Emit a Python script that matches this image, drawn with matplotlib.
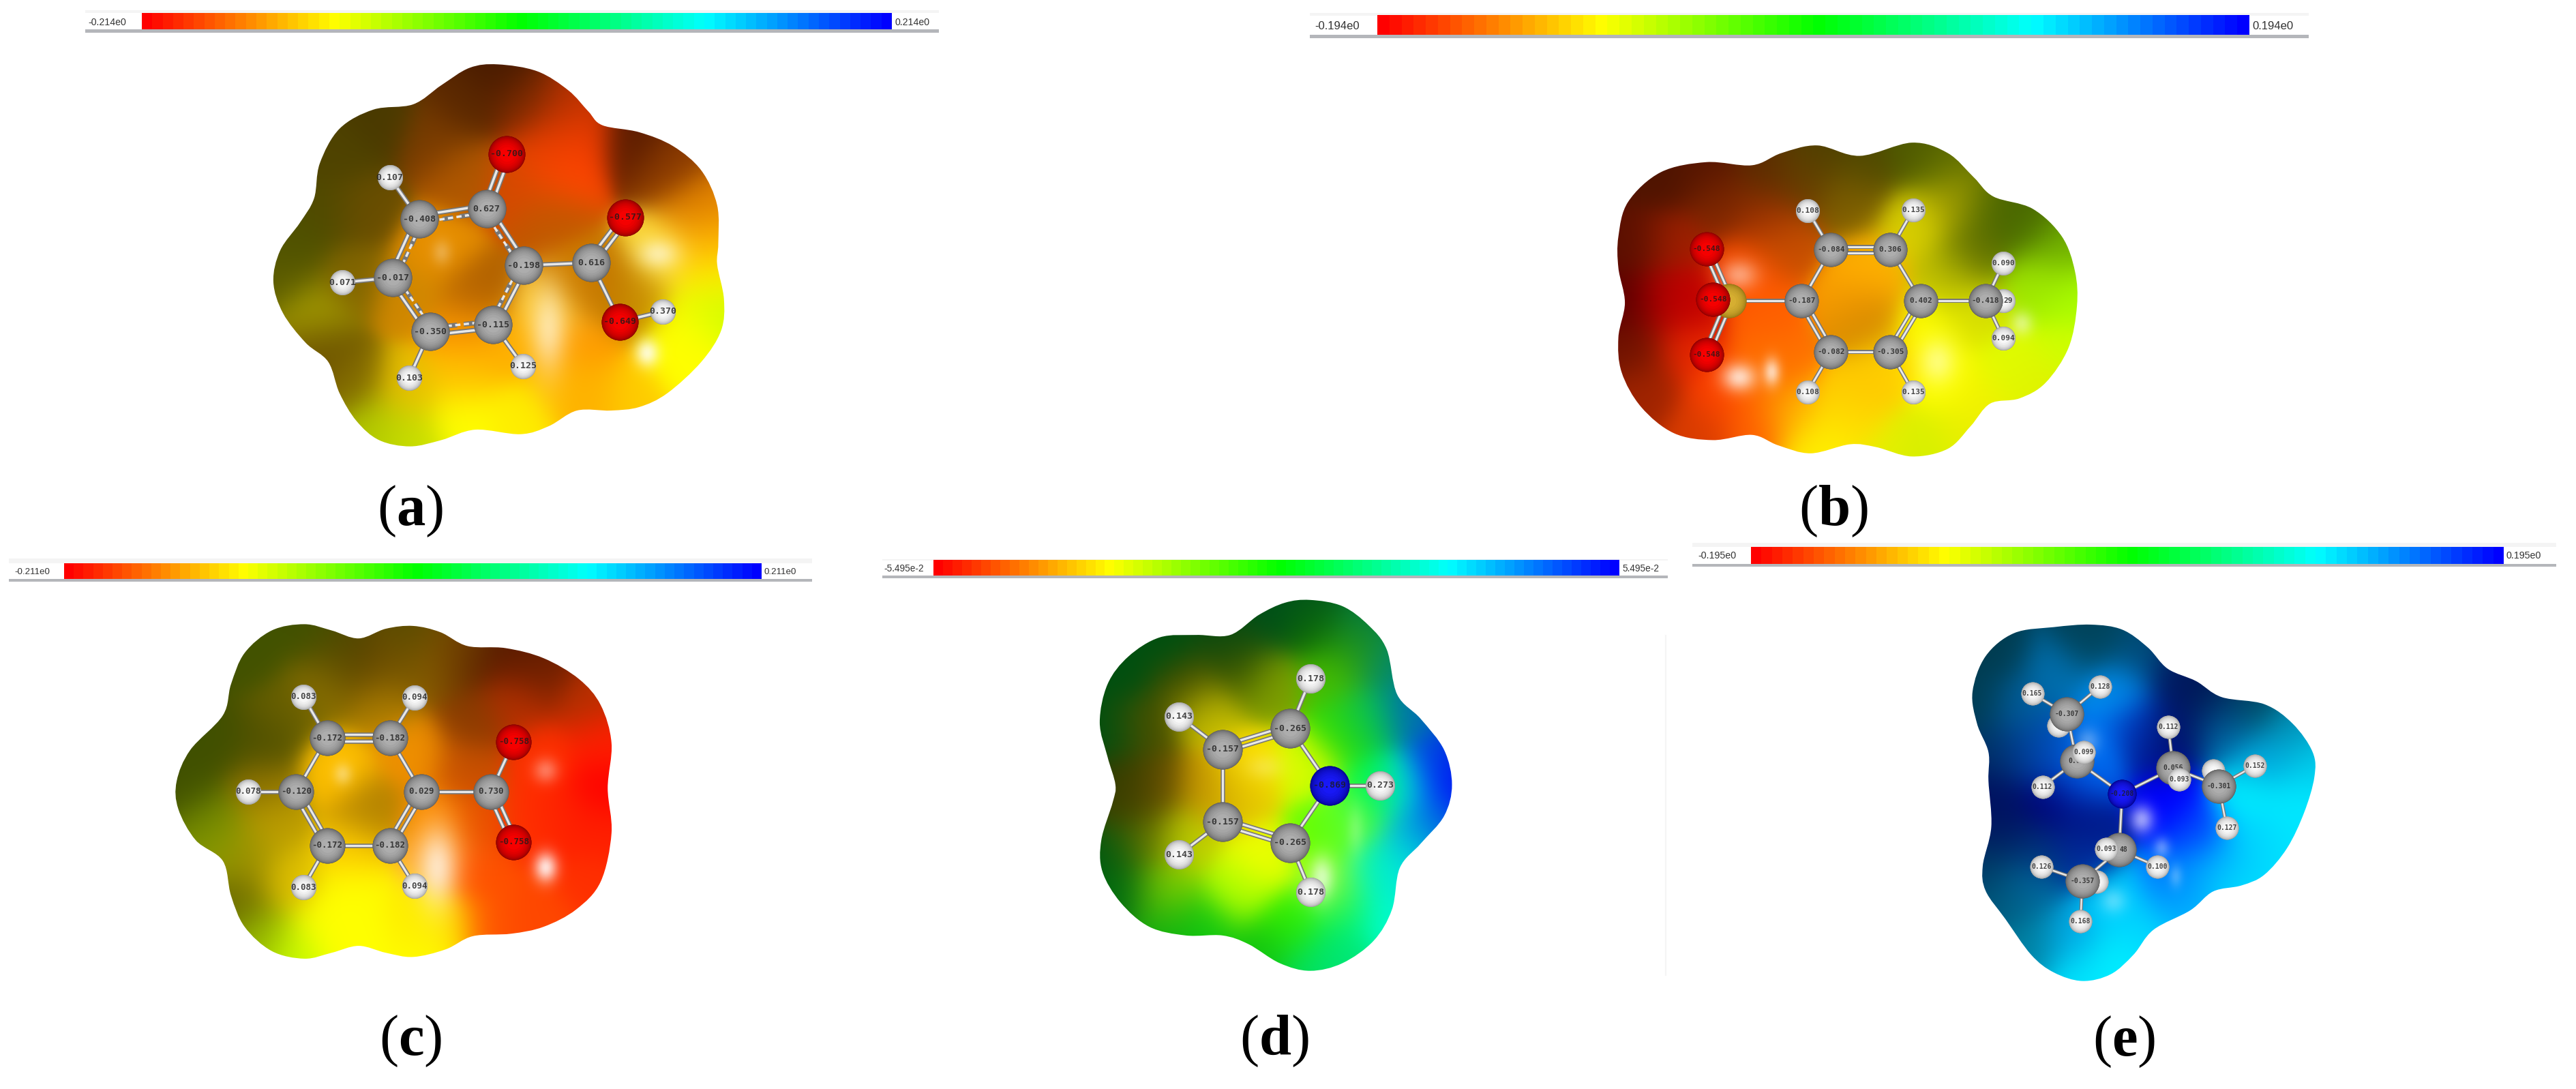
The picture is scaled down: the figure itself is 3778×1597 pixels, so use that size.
import numpy as np
import matplotlib
matplotlib.use('Agg')
import matplotlib.pyplot as plt
from matplotlib.colors import LinearSegmentedColormap, to_rgb
from matplotlib.path import Path
from matplotlib.patches import PathPatch, Rectangle

plt.rcParams['mathtext.fontset'] = 'custom'
plt.rcParams['mathtext.rm'] = 'Liberation Serif'
plt.rcParams['mathtext.bf'] = 'Liberation Serif:bold'

W, H = 3778, 1597
READ = 1568.0

# ---- panel a: 2-carboxyphenolate
a_elem = ['O', 'C', 'C', 'H', 'C', 'H', 'C', 'H', 'C', 'H', 'C', 'C', 'O', 'O', 'H']
a_x = [776, 740, 621, 569, 574, 485, 640, 603, 752, 805, 806, 925, 986, 976, 1052]
a_y = [442, 600, 630, 510, 798, 812, 953, 1086, 933, 1052, 763, 755, 625, 925, 895]
a_lab = ['-0.700', '0.627', '-0.408', '0.107', '-0.017', '0.071', '-0.350', '0.103',
         '-0.115', '0.125', '-0.198', '0.616', '-0.577', '-0.649', '0.370']
a_bonds = [(0, 1, 2), (1, 2, 1.5), (2, 3, 1), (2, 4, 1.5), (4, 5, 1), (4, 6, 1.5), (6, 7, 1),
           (6, 8, 1.5), (8, 9, 1), (8, 10, 1.5), (10, 1, 1.5), (10, 11, 1), (11, 12, 2),
           (11, 13, 1), (13, 14, 1)]
a_outline = [(760, 185), (830, 205), (885, 260), (920, 320), (945, 360), (1010, 380), (1070, 420),
             (1120, 490), (1148, 590), (1150, 700), (1148, 760), (1160, 860), (1155, 950),
             (1120, 1040), (1060, 1130), (1010, 1170), (960, 1180), (900, 1180), (850, 1225),
             (800, 1248), (720, 1235), (660, 1265), (605, 1283), (550, 1265), (510, 1210),
             (480, 1130), (460, 1040), (420, 985), (380, 900), (363, 810), (375, 720), (410, 640),
             (435, 570), (445, 470), (480, 370), (540, 315), (610, 300), (660, 245), (710, 195)]
a_surf = [(760, 200, '#4a1c00'), (700, 300, '#5a2800'), (810, 300, '#7a2a00'), (880, 330, '#b33000'),
          (850, 420, '#e84000'), (900, 400, '#ff4000'), (870, 500, '#ff4800'), (800, 530, '#d84800'),
          (1000, 400, '#5a1c00'), (1060, 480, '#8a3a00'), (1110, 600, '#e08000'), (1130, 700, '#ffb000'),
          (1050, 730, '#ffe040'), (1140, 800, '#fff000'), (1150, 900, '#ccff00'), (1100, 950, '#ffff00'),
          (1100, 1050, '#ffff00'), (1000, 1150, '#ffcc00'), (920, 1150, '#ffb000'), (900, 1000, '#ff9900'),
          (880, 1100, '#ffb800'), (800, 1200, '#ffee00'), (700, 1200, '#ffff00'), (600, 1260, '#c8e000'),
          (540, 1230, '#b0c800'), (500, 1100, '#806800'), (600, 1120, '#e8c000'), (440, 1000, '#6a5000'),
          (430, 900, '#a8a000'), (380, 800, '#5a5a00'), (400, 700, '#4f5200'), (450, 600, '#4f4a00'),
          (480, 450, '#4f4300'), (550, 340, '#4a3a00'), (650, 400, '#7a3c00'), (700, 500, '#b05800'),
          (650, 720, '#e89000'), (720, 850, '#b06000'), (850, 620, '#c05800'), (900, 800, '#d08000'),
          (950, 820, '#c07000'), (1000, 850, '#c89000'), (850, 900, '#ffd040'), (500, 800, '#806400'),
          (520, 600, '#6a4e00'), (600, 850, '#d08800'), (700, 950, '#ff9900'), (780, 1000, '#ffb000'),
          (700, 1080, '#ffc000')]
a_glint = [(660, 725, 12, 25, .25), (1045, 730, 25, 30, .55), (1025, 1015, 15, 28, .8), (850, 950, 22, 90, .55)]

# ---- panel b: tosylate
b_elem = ['H', 'S', 'O', 'O', 'O', 'C', 'C', 'C', 'C', 'C', 'C', 'H', 'H', 'H', 'H', 'H', 'C', 'H']
b_x = [1085, 665, 630, 640, 630, 776, 821, 912, 959, 912, 821, 785, 947, 785, 947, 1085, 1058, 1085]
b_y = [865, 865, 716, 860, 1020, 865, 718, 718, 865, 1012, 1012, 605, 603, 1127, 1127, 757, 865, 972]
b_lab = ['', '', '-0.548', '-0.548', '-0.548', '-0.187', '-0.084', '0.306', '0.402', '-0.305',
         '-0.082', '0.108', '0.135', '0.108', '0.135', '0.090', '-0.418', '0.094']
b_bonds = [(1, 2, 2), (1, 4, 2), (1, 5, 1), (5, 6, 1), (6, 7, 2), (7, 8, 1), (8, 9, 2), (9, 10, 1),
           (10, 5, 2), (6, 11, 1), (7, 12, 1), (10, 13, 1), (9, 14, 1), (8, 16, 1), (16, 15, 1), (16, 17, 1)]
b_outline = [(630, 466), (700, 475), (745, 440), (800, 418), (865, 448), (945, 410), (1000, 440),
             (1040, 510), (1070, 565), (1130, 600), (1175, 680), (1195, 780), (1198, 880), (1185, 1000),
             (1150, 1100), (1110, 1145), (1065, 1160), (1035, 1225), (1000, 1290), (945, 1312),
             (890, 1285), (850, 1277), (790, 1303), (740, 1280), (700, 1250), (640, 1265), (580, 1245),
             (530, 1170), (500, 1070), (495, 970), (505, 870), (495, 770), (495, 680), (510, 580), (560, 495)]
b_surf = [(560, 520, '#4f1400'), (630, 490, '#551500'), (520, 700, '#5a1000'), (510, 870, '#5c0000'),
          (520, 1000, '#701400'), (540, 1130, '#a02400'), (620, 1240, '#d83c00'), (700, 1230, '#ff6000'),
          (650, 1130, '#ff4000'), (600, 1000, '#e82800'), (570, 870, '#b00000'), (600, 860, '#c80000'),
          (580, 700, '#a02000'), (650, 580, '#802800'), (720, 500, '#5a2c00'), (720, 620, '#9a3000'),
          (750, 700, '#c85000'), (690, 780, '#ff5000'), (720, 900, '#ff6000'), (740, 1040, '#ff7000'),
          (760, 1180, '#ffb000'), (800, 1280, '#fff000'), (850, 1200, '#ffe800'), (920, 1290, '#e8f000'),
          (960, 1300, '#d0f000'), (1010, 1250, '#e8f000'), (1050, 1150, '#f0f000'), (1130, 1100, '#e0f000'),
          (1180, 1000, '#d0ff00'), (1190, 860, '#a8ff00'), (1140, 820, '#a0e800'), (1170, 720, '#70b000'),
          (1120, 640, '#4a6a00'), (1060, 600, '#4a6400'), (1040, 730, '#607000'), (1000, 800, '#c0c000'),
          (1040, 900, '#d8e000'), (1100, 1060, '#e0ff00'), (970, 950, '#ffff00'), (1000, 1100, '#ffff00'),
          (860, 1150, '#ffc000'), (850, 870, '#ffa000'), (870, 920, '#c88000'), (880, 780, '#ffb000'),
          (950, 650, '#d8d000'), (1010, 580, '#b0a800'), (1000, 470, '#607000'), (950, 430, '#4f5a00'),
          (870, 470, '#4f4800'), (800, 440, '#4f4000'), (850, 570, '#806000'), (780, 520, '#6a4000'),
          (900, 1050, '#ffd000'), (700, 1100, '#ff7000')]
b_glint = [(680, 790, 20, 30, .45), (680, 1085, 18, 28, .75), (730, 1070, 9, 28, .7), (985, 1040, 20, 45, .45),
           (1115, 930, 12, 25, .45)]

# ---- panel c: benzoate
c_elem = ['C', 'C', 'C', 'C', 'C', 'C', 'H', 'H', 'H', 'H', 'H', 'C', 'O', 'O']
c_x = [602, 717, 775, 717, 602, 545, 558, 763, 558, 763, 456, 903, 945, 945]
c_y = [555, 555, 710, 865, 865, 710, 436, 438, 986, 982, 710, 710, 566, 855]
c_lab = ['-0.172', '-0.182', '0.029', '-0.182', '-0.172', '-0.120', '0.083', '0.094', '0.083', '0.094',
         '0.078', '0.730', '-0.758', '-0.758']
c_bonds = [(0, 1, 2), (1, 2, 1), (2, 3, 2), (3, 4, 1), (4, 5, 2), (5, 0, 1), (0, 6, 1), (1, 7, 1), (4, 8, 1),
           (3, 9, 1), (5, 10, 1), (2, 11, 1), (11, 12, 1), (11, 13, 2)]
c_outline = [(560, 227), (610, 245), (660, 268), (710, 240), (760, 232), (810, 250), (860, 290), (930, 296),
             (1000, 325), (1065, 385), (1105, 460), (1125, 570), (1118, 700), (1125, 830), (1105, 970),
             (1060, 1050), (1000, 1100), (940, 1120), (870, 1127), (820, 1165), (760, 1187), (710, 1175),
             (660, 1155), (610, 1175), (560, 1192), (500, 1170), (450, 1100), (425, 1010), (410, 910),
             (360, 850), (328, 760), (325, 680), (350, 590), (410, 490), (425, 400), (450, 310), (500, 245)]
c_surf = [(560, 240, '#415200'), (450, 330, '#425200'), (400, 560, '#405000'), (340, 700, '#405000'),
          (380, 800, '#6a8000'), (400, 860, '#8aa000'), (480, 560, '#4f5000'), (620, 300, '#504a00'),
          (760, 250, '#5a4c00'), (830, 290, '#7a5000'), (660, 350, '#584000'), (800, 350, '#8a6000'),
          (860, 330, '#581c00'), (950, 320, '#581c00'), (1000, 360, '#702000'), (1080, 450, '#b83000'),
          (1110, 570, '#ff2000'), (1110, 700, '#ff0000'), (1115, 830, '#ff2000'), (1090, 980, '#ff3000'),
          (1000, 1090, '#ff4800'), (900, 1110, '#ff5000'), (880, 950, '#ff5000'), (880, 800, '#e85000'),
          (860, 650, '#c85000'), (870, 500, '#8a3c00'), (950, 450, '#b83000'), (1000, 620, '#ff3000'),
          (1040, 780, '#ff2000'), (980, 800, '#ff3000'), (820, 1100, '#ffe000'), (790, 1170, '#ffff00'),
          (660, 1140, '#ffff00'), (600, 1100, '#ffff00'), (540, 1180, '#c8ff00'), (480, 1130, '#90b000'),
          (440, 1020, '#6a6a00'), (450, 900, '#a09000'), (500, 800, '#c0a000'), (530, 970, '#e0c000'),
          (650, 1000, '#ffff00'), (760, 1070, '#ffee00'), (650, 880, '#ffcc00'), (620, 650, '#ffc000'),
          (680, 770, '#b08000'), (760, 600, '#f09000'), (800, 800, '#ff9000'), (800, 900, '#ffb040'),
          (520, 480, '#6a6000'), (600, 400, '#8a7000'), (720, 350, '#705000'), (700, 450, '#b08000'),
          (480, 700, '#8a7000')]
c_glint = [(630, 660, 12, 22, .35), (1005, 650, 16, 25, .35), (1005, 930, 15, 30, .85), (805, 930, 25, 80, .7)]

# ---- panel d: pyrrole
d_elem = ['C', 'C', 'C', 'C', 'N', 'H', 'H', 'H', 'H', 'H']
d_x = [800, 670, 670, 800, 875, 972, 839, 587, 587, 839]
d_y = [528, 588, 797, 857, 692, 692, 384, 493, 892, 1000]
d_lab = ['-0.265', '-0.157', '-0.157', '-0.265', '-0.869', '0.273', '0.178', '0.143', '0.143', '0.178']
d_bonds = [(0, 1, 2), (1, 2, 1), (2, 3, 2), (3, 4, 1), (4, 0, 1), (4, 5, 1), (0, 6, 1), (1, 7, 1), (2, 8, 1),
           (3, 9, 1)]
d_outline = [(838, 157), (900, 175), (950, 230), (985, 300), (1005, 430), (1050, 500), (1095, 590), (1110, 690),
             (1095, 780), (1050, 860), (1010, 930), (995, 1050), (960, 1140), (900, 1205), (838, 1227),
             (780, 1205), (720, 1150), (670, 1125), (600, 1125), (530, 1100), (475, 1030), (440, 940),
             (438, 850), (460, 740), (465, 690), (450, 610), (435, 510), (450, 400), (490, 320), (550, 265),
             (620, 258), (685, 258), (740, 200), (790, 165)]
d_surf = [(838, 170, '#005020'), (930, 230, '#007848'), (980, 340, '#008870'), (1030, 480, '#0070b0'),
          (1090, 620, '#0040e0'), (1105, 690, '#0000ff'), (1080, 790, '#0060e0'), (1030, 860, '#00c0e0'),
          (1000, 960, '#00e8e8'), (985, 1080, '#00ffd0'), (900, 1190, '#00e878'), (838, 1215, '#00e060'),
          (750, 1170, '#10c010'), (640, 1110, '#10c810'), (560, 1100, '#10b010'), (480, 1010, '#006a10'),
          (450, 880, '#005a10'), (470, 740, '#404000'), (480, 690, '#303a00'), (450, 540, '#005010'),
          (470, 380, '#005010'), (560, 280, '#005010'), (680, 270, '#084a10'), (760, 210, '#005018'),
          (850, 230, '#107000'), (700, 350, '#3a5000'), (600, 400, '#404a00'), (520, 520, '#4a5000'),
          (540, 700, '#6a5000'), (520, 850, '#607000'), (560, 1000, '#80d000'), (700, 1000, '#b0ff00'),
          (800, 1100, '#30f000'), (900, 1050, '#00f060'), (960, 950, '#00f8b0'), (1020, 700, '#00e8f0'),
          (960, 700, '#00f840'), (900, 540, '#30e000'), (950, 500, '#00c060'), (880, 380, '#48c000'),
          (920, 300, '#30a000'), (760, 400, '#80a000'), (640, 480, '#c8c000'), (720, 640, '#ffe000'),
          (700, 720, '#e0c000'), (640, 700, '#c09000'), (600, 850, '#c0d000'), (740, 900, '#f0ff00'),
          (860, 830, '#60ff00'), (920, 800, '#60ff40'), (880, 980, '#b0ff20'), (830, 640, '#d8ff00')]
d_glint = [(750, 640, 25, 25, .2), (860, 960, 16, 42, .65), (925, 820, 12, 50, .2)]

# ---- panel e: triethylammonium
e_elem = ['H', 'H', 'C', 'H', 'H', 'C', 'H', 'H', 'H', 'H', 'C', 'H', 'H', 'H', 'C', 'N', 'C', 'H', 'H', 'H', 'C', 'H']
e_x = [658, 731, 673, 612, 630, 690, 703, 725, 628, 697, 700, 930, 851, 1003, 860, 770, 940, 954, 870, 832, 765, 742]
e_y = [545, 435, 513, 455, 717, 645, 620, 985, 942, 1095, 982, 672, 549, 658, 665, 737, 715, 832, 697, 942, 895, 893]
e_lab = ['0.', '0.128', '-0.307', '0.165', '0.112', '0.02', '0.099', '', '0.126', '0.168', '-0.357', '', '0.112',
         '0.152', '0.056', '-0.208', '-0.301', '0.127', '0.093', '0.100', '', '0.093']
e_bonds = [(2, 0, 1), (2, 1, 1), (2, 3, 1), (2, 5, 1), (5, 4, 1), (5, 6, 1), (5, 15, 1), (15, 14, 1), (14, 12, 1),
           (14, 16, 1), (14, 18, 1), (16, 11, 1), (16, 13, 1), (16, 17, 1), (15, 20, 1), (20, 19, 1), (20, 10, 1),
           (10, 8, 1), (10, 7, 1), (10, 9, 1)]
e_outline = [(715, 261), (770, 275), (815, 325), (850, 385), (900, 420), (945, 465), (1020, 485), (1070, 540),
             (1105, 620), (1108, 690), (1090, 790), (1060, 890), (1020, 965), (980, 995), (930, 1012), (890, 1065),
             (825, 1120), (790, 1190), (750, 1245), (700, 1264), (650, 1240), (610, 1190), (565, 1090), (530, 1010),
             (525, 940), (540, 830), (535, 700), (535, 620), (515, 540), (507, 450), (530, 350), (580, 285), (650, 268)]
e_surf = [(700, 270, '#003c50'), (560, 330, '#003c50'), (520, 480, '#003c50'), (550, 620, '#003060'),
          (545, 740, '#001060'), (560, 850, '#001860'), (540, 950, '#003860'), (560, 1040, '#005878'),
          (610, 1160, '#0080a0'), (700, 1250, '#00e8ff'), (760, 1220, '#00f0ff'), (810, 1130, '#00d8ff'),
          (880, 1050, '#00c0ff'), (960, 990, '#00e8ff'), (1040, 880, '#00e8ff'), (1080, 770, '#00e8ff'),
          (1100, 650, '#00d0f0'), (1070, 560, '#0090b8'), (1000, 490, '#004860'), (930, 480, '#001850'),
          (870, 410, '#001860'), (800, 330, '#004c78'), (720, 290, '#004a64'), (650, 380, '#0070b0'),
          (590, 500, '#0060a0'), (760, 450, '#0090f0'), (600, 620, '#0040a0'), (640, 760, '#000078'),
          (700, 820, '#001080'), (800, 560, '#0040d0'), (830, 600, '#000a70'), (870, 550, '#001060'),
          (950, 560, '#0070b0'), (1020, 640, '#00a8e0'), (990, 750, '#00f0ff'), (1000, 880, '#00c8ff'),
          (900, 850, '#0040ff'), (850, 750, '#0000ff'), (700, 700, '#0050e0'), (720, 620, '#0080ff'),
          (650, 620, '#0050c0'), (620, 900, '#003078'), (600, 1000, '#0070a8'), (680, 1150, '#00a8e8'),
          (760, 1050, '#00d0ff'), (860, 1000, '#0070ff'), (930, 950, '#00a0ff'), (700, 900, '#0030a0')]
e_glint = [(805, 810, 15, 28, .6), (840, 890, 10, 20, .35), (865, 970, 8, 22, .25), (755, 1040, 16, 25, .3),
           (710, 590, 14, 25, .3)]

# fragments of labels that stick out from behind a nearer atom
b_part = [(1093, 865, '29')]
e_part = [(773, 895, '48')]

# potential range labels
range_lab = {'a': ('-0.214e0', '0.214e0'), 'b': ('-0.194e0', '0.194e0'), 'c': ('-0.211e0', '0.211e0'),
             'd': ('-5.495e-2', '5.495e-2'), 'e': ('-0.195e0', '0.195e0')}

esp = LinearSegmentedColormap.from_list('esp', [(0, '#ff0000'), (.255, '#ffff00'), (.505, '#00ff00'),
                                                (.755, '#00ffff'), (1, '#0000ff')], N=72)
sphere = {'C': ('#5a5a5a', '#b4b4b4'), 'H': ('#9a9a9a', '#ffffff'), 'O': ('#800000', '#ff0000'),
          'N': ('#000080', '#1a1aff'), 'S': ('#907010', '#dcb434')}


def smooth_outline(pts):
    # closed Catmull-Rom through the outline, as bezier segments
    p = np.array(pts, float)
    n = len(p)
    verts = [p[0]]
    codes = [Path.MOVETO]
    for i in range(n):
        p0, p1, p2, p3 = p[i - 1], p[i], p[(i + 1) % n], p[(i + 2) % n]
        verts += [p1 + (p2 - p0) / 6, p2 - (p3 - p1) / 6, p2]
        codes += [Path.CURVE4] * 3
    return Path(verts, codes)


def draw_bond(ax, p, q, order, sx, sy, lw):
    dx, dy = (q[0] - p[0]) * sx, (q[1] - p[1]) * sy
    ln = np.hypot(dx, dy)
    nx, ny = -dy / ln * lw * 0.75 / sx, dx / ln * lw * 0.75 / sy
    if order == 1:
        parts = [(0, 0, '-')]
    elif order == 2:
        parts = [(nx, ny, '-'), (-nx, -ny, '-')]
    else:
        parts = [(nx, ny, '-'), (-nx, -ny, (0, (2.2, 1.4)))]
    for ox, oy, ls in parts:
        xs, ys = [p[0] + ox, q[0] + ox], [p[1] + oy, q[1] + oy]
        ax.plot(xs, ys, color='#777777', lw=lw * 0.72, ls=ls, zorder=2, solid_capstyle='butt')
        ax.plot(xs, ys, color='#e8e8e8', lw=lw * 0.36, ls=ls, zorder=2.1, solid_capstyle='butt')


def draw_panel(fig, box, letter, elem, xs, ys, labels, bonds, outline, surf, glint, bar, sizes,
               bond_lw, lab_fs, mol_fs, letter_xy, parts=()):
    x0, y0, w, h = box
    sx, sy = w / READ, h / READ
    ax = fig.add_axes([x0 / W, 1 - (y0 + h) / H, w / W, h / H])
    ax.set_xlim(0, READ)
    ax.set_ylim(READ, 0)
    ax.axis('off')
    ax.patch.set_alpha(0)

    # colour scale strip
    bx0, bx1, by0, by1, fx0, fx1, fy0, fy1, laby, lx0, rx0 = bar
    ax.add_patch(Rectangle((fx0, fy0), fx1 - fx0, by0 - fy0, color='#f4f4f4', lw=0, zorder=0.5))
    ax.add_patch(Rectangle((fx0, by1), fx1 - fx0, fy1 - by1, color='#b4b6ba', lw=0, zorder=0.5))
    ax.imshow(np.linspace(0, 1, 72)[None, :], cmap=esp, extent=(bx0, bx1, by1, by0), aspect='auto',
              interpolation='nearest', zorder=1)
    ax.text(lx0, laby, range_lab[letter][0], fontsize=lab_fs, family='Liberation Sans', color='#333333',
            ha='left', va='center')
    ax.text(rx0, laby, range_lab[letter][1], fontsize=lab_fs, family='Liberation Sans', color='#333333',
            ha='left', va='center')

    # surface colours blended between the picked points, clipped to the outline
    gx = np.arange(300, 1250, 4.0)
    gy = np.arange(120, 1340, 4.0)
    mx, my = np.meshgrid(gx, gy)
    sp = np.array([s[:2] for s in surf], float)
    sc = np.array([to_rgb(s[2]) for s in surf])
    d2 = ((mx[..., None] - sp[:, 0]) * sx) ** 2 + ((my[..., None] - sp[:, 1]) * sy) ** 2
    wt = np.exp(-d2 / (2 * 32.0 ** 2)) + 1e-14
    img = (wt[..., None] * sc).sum(axis=2) / wt.sum(axis=2, keepdims=True)
    for gxc, gyc, rx, ry, amt in glint:
        al = amt * np.exp(-((mx - gxc) / rx) ** 2 / 2 - ((my - gyc) / ry) ** 2 / 2)
        img = img * (1 - al[..., None]) + al[..., None]
    im = ax.imshow(img, extent=(gx[0], gx[-1], gy[-1], gy[0]), aspect='auto', interpolation='bilinear', zorder=1)
    im.set_clip_path(PathPatch(smooth_outline(outline), transform=ax.transData))

    for i, j, order in bonds:
        draw_bond(ax, (xs[i], ys[i]), (xs[j], ys[j]), order, sx, sy, bond_lw)

    # atoms back to front
    for k, el in enumerate(elem):
        edge, core = np.array(to_rgb(sphere[el][0])), np.array(to_rgb(sphere[el][1]))
        diam = sizes[el] * 0.72
        z = 3 + k * 0.1
        for t in np.linspace(0, 0.995, 14):
            r = np.sqrt(1 - t ** 2)
            c = edge + (core - edge) * t
            ax.scatter([xs[k]], [ys[k]], s=(diam * r) ** 2, color=[tuple(c)], linewidths=0, zorder=z)
        if labels[k]:
            ax.text(xs[k], ys[k], labels[k], fontsize=mol_fs, family='DejaVu Sans Mono', weight='bold',
                    color='#1c1c1c', alpha=0.8, ha='center', va='center', zorder=z + 0.05)
    for px, py, s in parts:
        ax.text(px, py, s, fontsize=mol_fs, family='DejaVu Sans Mono', weight='bold', color='#1c1c1c',
                alpha=0.8, ha='center', va='center', zorder=6)

    ax.text(letter_xy[0], letter_xy[1], r'($\mathbf{%s}$)' % letter, fontsize=61, family='Liberation Serif',
            color='black', ha='center', va='center', math_fontfamily='custom', zorder=6)
    ax.set_xlim(0, READ)
    ax.set_ylim(READ, 0)
    return ax


fig = plt.figure(figsize=(W / 100, H / 100), dpi=100, facecolor='white')

draw_panel(fig, (100, 0, 1300, 800), 'a', a_elem, a_x, a_y, a_lab, a_bonds, a_outline, a_surf, a_glint,
           (130, 1456, 38, 85, 30, 1540, 30, 95, 64, 35, 1462),
           {'C': 56, 'H': 37, 'O': 54}, 7, 10.2, 9.5, (605, 1470))
draw_panel(fig, (1900, 0, 1500, 800), 'b', b_elem, b_x, b_y, b_lab, b_bonds, b_outline, b_surf, b_glint,
           (125, 1461, 45, 100, 22, 1553, 38, 110, 75, 30, 1467),
           {'C': 50, 'H': 35, 'O': 50, 'S': 50}, 6, 12, 8, (825, 1470), b_part)
draw_panel(fig, (0, 800, 1250, 797), 'c', c_elem, c_x, c_y, c_lab, c_bonds, c_outline, c_surf, c_glint,
           (118, 1400, 52, 97, 16, 1494, 38, 104, 76, 27, 1405),
           {'C': 52, 'H': 37, 'O': 52}, 6.5, 9.6, 9, (755, 1430))
ax_d = draw_panel(fig, (1280, 800, 1200, 797), 'd', d_elem, d_x, d_y, d_lab, d_bonds, d_outline, d_surf, d_glint,
                  (116, 1430, 43, 87, 18, 1523, 40, 94, 67, 22, 1436),
                  {'C': 58, 'H': 43, 'N': 58}, 6.5, 9.8, 9.5, (770, 1430))
ax_d.plot([1520, 1520], [260, 1240], color='#f5f5f5', lw=1.5, zorder=0.5)
draw_panel(fig, (2470, 780, 1308, 817), 'e', e_elem, e_x, e_y, e_lab, e_bonds, e_outline, e_surf, e_glint,
           (117, 1440, 43, 90, 14, 1533, 30, 98, 68, 24, 1445),
           {'C': 50, 'H': 34, 'N': 42}, 5, 10.3, 7, (773, 1435), e_part)

fig.savefig('out.png', dpi=100, facecolor='white')
